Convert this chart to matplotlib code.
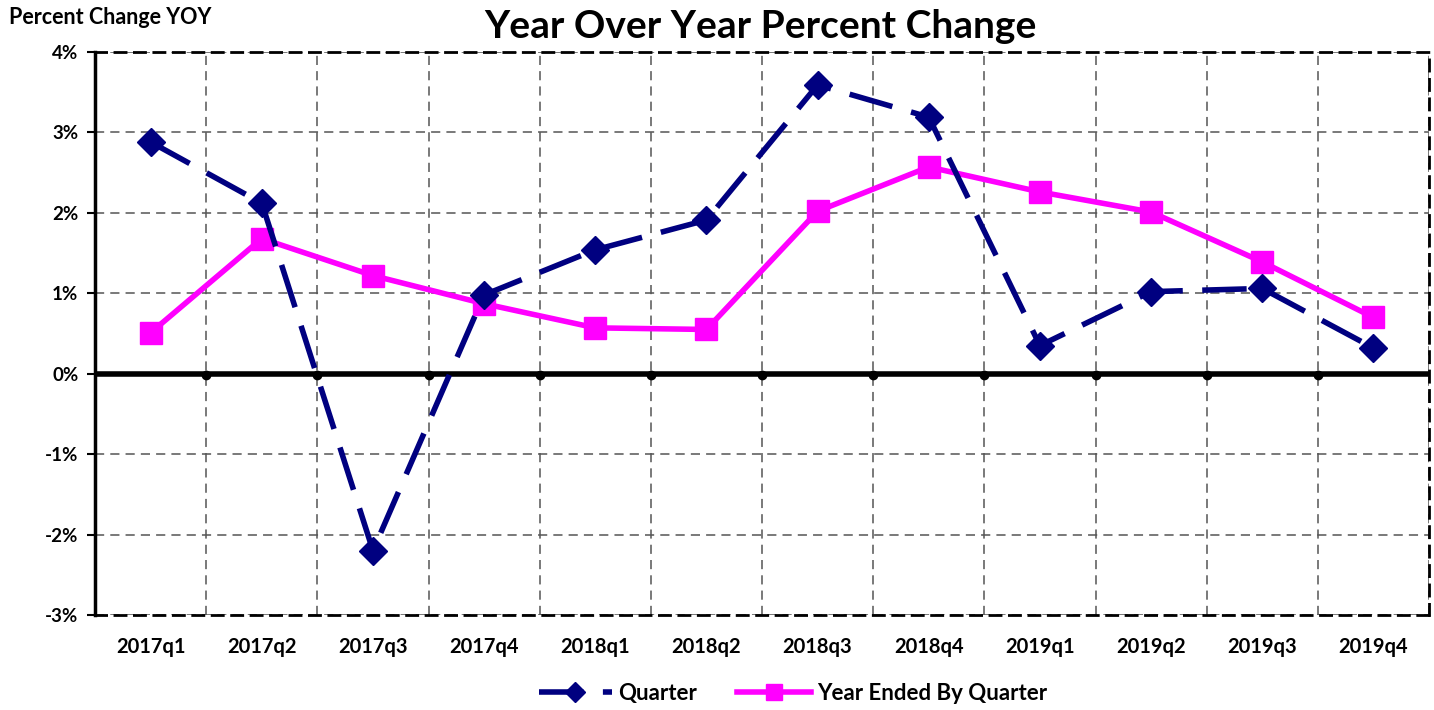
import matplotlib
matplotlib.use("Agg")
import matplotlib.pyplot as plt
from matplotlib.ticker import FuncFormatter

categories = ["2017q1", "2017q2", "2017q3", "2017q4", "2018q1", "2018q2",
              "2018q3", "2018q4", "2019q1", "2019q2", "2019q3", "2019q4"]
quarter = [2.88, 2.12, -2.20, 0.98, 1.54, 1.91, 3.59, 3.19, 0.35, 1.02, 1.06, 0.32]
year_ended = [0.51, 1.68, 1.22, 0.87, 0.57, 0.55, 2.02, 2.57, 2.26, 2.01, 1.39, 0.70]
yticks = [-3, -2, -1, 0, 1, 2, 3, 4]

plt.rcParams['font.family'] = ['Lato', 'DejaVu Sans']
plt.rcParams['font.weight'] = 'bold'

fig = plt.figure(figsize=(14.34, 7.10), dpi=100)
ax = fig.add_axes([0.0663, 0.1338, 0.9302, 0.7930])

x = list(range(len(categories)))
ax.set_xlim(-0.5, len(categories) - 0.5)
ax.set_ylim(-3, 4)

# grid
for b in range(len(categories) + 1):
    ax.axvline(b - 0.5, color='#555555', lw=1.1, ls=(0, (6, 4)), zorder=1)
for t in yticks:
    ax.axhline(t, color='#555555', lw=1.1, ls=(0, (6, 4)), zorder=1)

ax.axhline(0, color='black', lw=4, zorder=2)
ax.plot([b - 0.5 for b in range(1, len(categories))], [-0.02] * (len(categories) - 1),
        ls='none', marker='o', ms=6, color='black', zorder=2)

navy = '#000080'
magenta = '#ff00ff'
ax.plot(x, quarter, color=navy, lw=4, dashes=(8, 3.5), marker='D', ms=14,
        markerfacecolor=navy, markeredgecolor=navy, label='Quarter', zorder=4)
ax.plot(x, year_ended, color=magenta, lw=4, marker='s', ms=16,
        markerfacecolor=magenta, markeredgecolor=magenta,
        label='Year Ended By Quarter', zorder=3)

ax.set_xticks(x)
ax.set_xticklabels(categories, fontsize=14.5, fontweight='bold')
ax.tick_params(axis='x', length=0, pad=16)
ax.set_yticks(yticks)
ax.yaxis.set_major_formatter(FuncFormatter(lambda v, p: f"{int(v)}%"))
ax.tick_params(axis='y', direction='out', length=6, width=1.5, labelsize=13.5, pad=6)
for lab in ax.get_yticklabels():
    lab.set_fontweight('bold')

for s in ['top', 'bottom', 'right']:
    ax.spines[s].set_linestyle((0, (4, 3)))
    ax.spines[s].set_linewidth(2)
    ax.spines[s].set_color('black')
ax.spines['left'].set_linewidth(2.5)
ax.spines['left'].set_color('black')

fig.text(0.530, 0.963, "Year Over Year Percent Change", ha='center', va='center',
         fontsize=28, fontweight='bold')
fig.text(0.006, 0.976, "Percent Change YOY", ha='left', va='center',
         fontsize=15.5, fontweight='bold')

leg = fig.legend(loc='center', bbox_to_anchor=(0.553, 0.023), ncol=2, frameon=False,
                 fontsize=16, handlelength=3.3, columnspacing=1.8, handletextpad=0.3,
                 markerscale=0.7)
for t in leg.get_texts():
    t.set_fontweight('bold')

fig.savefig("out.png", dpi=100)
